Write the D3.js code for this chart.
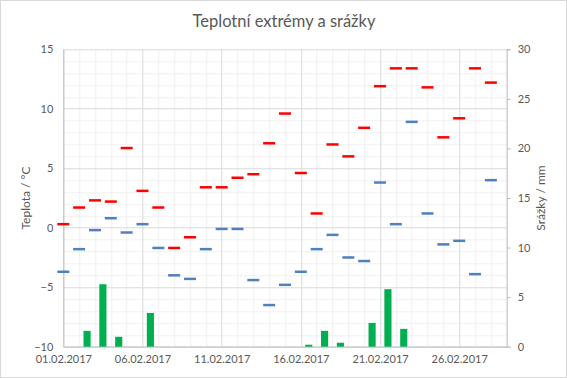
<!DOCTYPE html>
<html>
<head>
<meta charset="utf-8">
<script src="https://cdn.jsdelivr.net/npm/d3@7"></script>
<style>
  body { margin: 0; background: #fff; }
  text { font-family: Lato, "Open Sans", sans-serif; fill: #595959; }
</style>
</head>
<body>
<svg id="chart" width="567" height="378"></svg>
<script>
// dates of February 2017
const days = [
  "01.02.2017", "02.02.2017", "03.02.2017", "04.02.2017", "05.02.2017", "06.02.2017", "07.02.2017",
  "08.02.2017", "09.02.2017", "10.02.2017", "11.02.2017", "12.02.2017", "13.02.2017", "14.02.2017",
  "15.02.2017", "16.02.2017", "17.02.2017", "18.02.2017", "19.02.2017", "20.02.2017", "21.02.2017",
  "22.02.2017", "23.02.2017", "24.02.2017", "25.02.2017", "26.02.2017", "27.02.2017", "28.02.2017"
];
const maxTemp = [0.3, 1.7, 2.3, 2.2, 6.7, 3.1, 1.7, -1.7, -0.8, 3.4, 3.4, 4.2, 4.5, 7.1,
                 9.6, 4.6, 1.2, 7.0, 6.0, 8.4, 11.9, 13.4, 13.4, 11.8, 7.6, 9.2, 13.4, 12.2];
const minTemp = [-3.7, -1.8, -0.2, 0.8, -0.4, 0.3, -1.7, -4.0, -4.3, -1.8, -0.1, -0.1, -4.4, -6.5,
                 -4.8, -3.7, -1.8, -0.6, -2.5, -2.8, 3.8, 0.3, 8.9, 1.2, -1.4, -1.1, -3.9, 4.0];
const precip = [0, 1.6, 6.3, 1.0, 0, 3.4, 0, 0, 0, 0, 0, 0, 0, 0,
                0, 0.2, 1.6, 0.4, 0, 2.4, 5.8, 1.8, 0, 0, 0, 0, 0, 0];
const tempTicks = [-10, -5, 0, 5, 10, 15];
const precipTicks = [0, 5, 10, 15, 20, 25, 30];
const labelDays = [1, 6, 11, 16, 21, 26];

const W = 567, H = 378;
const margin = { top: 49.3, right: 60.3, bottom: 31.3, left: 63.3 };
const width = W - margin.left - margin.right;
const height = H - margin.top - margin.bottom;

const svg = d3.select("#chart");

// chart border
svg.append("rect")
  .attr("x", 0.5).attr("y", 0.5)
  .attr("width", W - 1).attr("height", H - 1)
  .attr("fill", "#fff").attr("stroke", "#d9d9d9");

const g = svg.append("g").attr("transform", `translate(${margin.left},${margin.top})`);

// day scale: 01.02 at left edge, 01.03 at right edge
const x = d3.scaleLinear().domain([1, 29]).range([0, width]);
const xBand = d3.scaleBand().domain(d3.range(1, 29)).range([0, width]).paddingInner(0.55).paddingOuter(0.275);
const y = d3.scaleLinear().domain([-10, 15]).range([height, 0]);
const y2 = d3.scaleLinear().domain([0, 30]).range([height, 0]);

// minor gridlines
g.append("g").selectAll("line")
  .data(d3.range(-10, 16).filter(v => v % 5 !== 0))
  .join("line")
  .attr("x1", 0).attr("x2", width)
  .attr("y1", d => Math.round(y(d)) + 0.5).attr("y2", d => Math.round(y(d)) + 0.5)
  .attr("stroke", "#f0f0f0");
g.append("g").selectAll("line")
  .data(d3.range(1, 30).filter(d => (d - 1) % 5 !== 0))
  .join("line")
  .attr("x1", d => Math.round(x(d)) + 0.5).attr("x2", d => Math.round(x(d)) + 0.5)
  .attr("y1", 0).attr("y2", height)
  .attr("stroke", "#f0f0f0");

// major gridlines
g.append("g").selectAll("line")
  .data(tempTicks)
  .join("line")
  .attr("x1", 0).attr("x2", width)
  .attr("y1", d => Math.round(y(d)) + 0.5).attr("y2", d => Math.round(y(d)) + 0.5)
  .attr("stroke", "#d9d9d9");
g.append("g").selectAll("line")
  .data(labelDays)
  .join("line")
  .attr("x1", d => Math.round(x(d)) + 0.5).attr("x2", d => Math.round(x(d)) + 0.5)
  .attr("y1", 0).attr("y2", height)
  .attr("stroke", "#d9d9d9");

// left temperature axis
const yAxis = d3.axisLeft(y).tickValues(tempTicks).tickSize(0).tickPadding(10);
const ya = g.append("g").call(yAxis);
ya.select(".domain").attr("stroke", "#bfbfbf");
ya.selectAll("text").style("font-size", "11px").attr("fill", "#595959");

// right precipitation axis
const y2Axis = d3.axisRight(y2).tickValues(precipTicks).tickSize(4).tickPadding(7);
const ya2 = g.append("g").attr("transform", `translate(${width},0)`).call(y2Axis);
ya2.select(".domain").attr("stroke", "#bfbfbf");
ya2.selectAll("line").attr("stroke", "#bfbfbf");
ya2.selectAll("text").style("font-size", "11px").attr("fill", "#595959");

// bottom date axis
const xAxis = d3.axisBottom(x).tickValues(labelDays).tickSize(0).tickPadding(9)
  .tickFormat(d => days[d - 1]);
const xa = g.append("g").attr("transform", `translate(0,${height})`).call(xAxis);
xa.select(".domain").attr("stroke", "#bfbfbf");
xa.selectAll("text").style("font-size", "11px").attr("fill", "#595959");

// precipitation bars
g.append("g").selectAll("rect")
  .data(precip.map((v, i) => ({ day: i + 1, v })).filter(d => d.v > 0))
  .join("rect")
  .attr("x", d => xBand(d.day))
  .attr("width", xBand.bandwidth())
  .attr("y", d => y2(d.v))
  .attr("height", d => height - y2(d.v))
  .attr("fill", "#00b050");

// temperature dashes
const dashW = 12;
function drawDashes(values, color) {
  g.append("g").selectAll("rect")
    .data(values.map((v, i) => ({ day: i + 1, v })))
    .join("rect")
    .attr("x", d => x(d.day) - dashW / 2)
    .attr("width", dashW)
    .attr("y", d => y(d.v) - 1.25)
    .attr("height", 2.5)
    .attr("fill", color);
}
drawDashes(minTemp, "#4f81bd");
drawDashes(maxTemp, "#ff0000");

// title
svg.append("text")
  .attr("x", 284).attr("y", 27)
  .attr("text-anchor", "middle")
  .style("font-size", "16.5px")
  .text("Teplotní extrémy a srážky");

// axis titles
svg.append("text")
  .attr("transform", `translate(30,${margin.top + height / 2 - 0}) rotate(-90)`)
  .attr("text-anchor", "middle")
  .style("font-size", "12px")
  .text("Teplota / °C");
svg.append("text")
  .attr("transform", `translate(545,${margin.top + height / 2}) rotate(-90)`)
  .attr("text-anchor", "middle")
  .style("font-size", "12px")
  .text("Srážky / mm");
</script>
</body>
</html>
